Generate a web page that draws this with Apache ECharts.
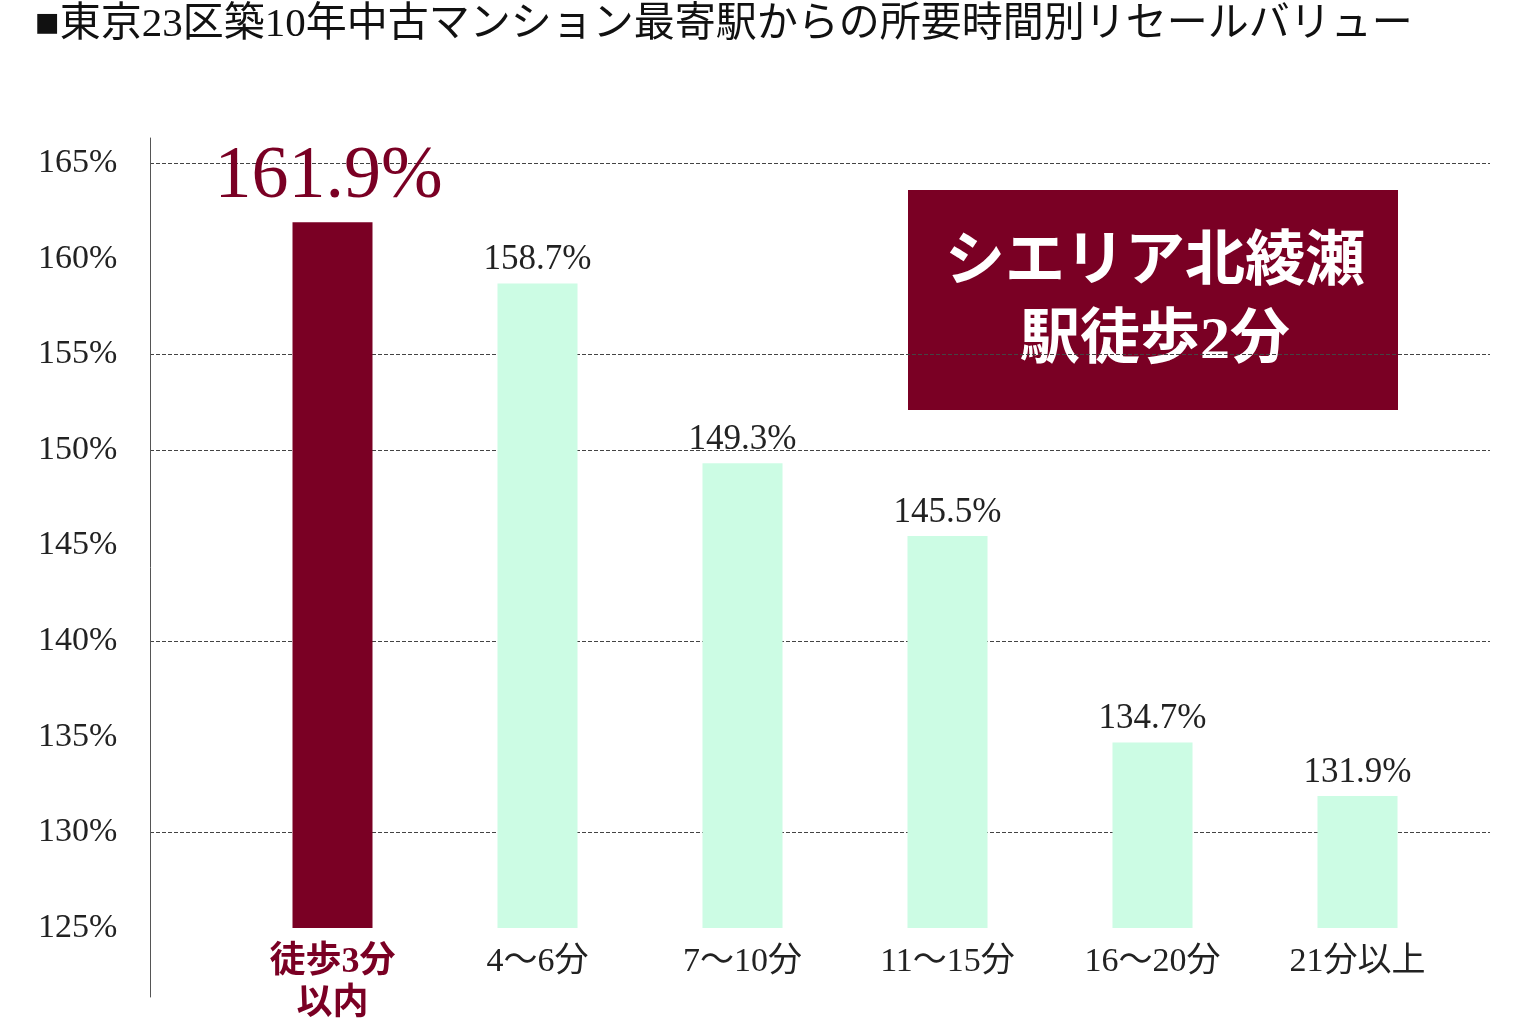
<!DOCTYPE html>
<html><head><meta charset="utf-8">
<script src="https://cdn.jsdelivr.net/npm/echarts@6/dist/echarts.min.js"></script>
<style>html,body{margin:0;background:#fff}#c{width:1536px;height:1027px}</style>
</head><body><div id="c"></div>
<script>
const titleText = '■東京23区築10年中古マンション最寄駅からの所要時間別リセールバリュー';
const categories = ['徒歩3分\n以内', '4～6分', '7～10分', '11～15分', '16～20分', '21分以上'];
const values = [161.9, 158.7, 149.3, 145.5, 134.7, 131.9];
const yMin = 125, yMax = 165, yStep = 5;
const boxText = 'シエリア北綾瀬\n駅徒歩2分';
const FONT = '"Liberation Serif","DejaVu Serif","Noto Sans CJK JP"';
const RED = '#7a0024', MINT = '#ccfce4';
const chart = echarts.init(document.getElementById('c'));
const gridColors = ['transparent','#444','transparent','#444','transparent','#444','#444','transparent','#444'];
chart.setOption({
  animation:false,
  title:{text:titleText,left:30,top:0,textStyle:{fontFamily:FONT,fontSize:41,fontWeight:'normal',color:'#111'}},
  grid:[
    {left:230,right:76,top:163,bottom:99},
    {left:150,right:46,top:163,bottom:99},
    {left:150,right:46,top:138,bottom:30}
  ],
  xAxis:[
    {type:'category',gridIndex:0,data:categories,axisLine:{show:false},axisTick:{show:false},
     axisLabel:{interval:0,margin:14,fontFamily:FONT,fontSize:34,lineHeight:40,
       formatter:(v,i)=>i===0?'{r|'+v.replace('\n','}\n{r|')+'}':v,
       color:'#222',rich:{r:{color:RED,fontWeight:'bold',fontFamily:FONT,fontSize:36,lineHeight:42}}}},
    {type:'value',gridIndex:1,show:false},
    {type:'value',gridIndex:2,show:false}
  ],
  yAxis:[
    {type:'value',gridIndex:0,min:yMin,max:yMax,interval:yStep,show:false},
    {type:'value',gridIndex:1,min:yMin,max:yMax,interval:yStep,
     axisLine:{show:false},axisTick:{show:false},
     axisLabel:{formatter:'{value}%',align:'left',margin:112,fontFamily:FONT,fontSize:34,color:'#222',padding:[0,0,26,0]},
     splitLine:{show:true,lineStyle:{type:'dashed',color:gridColors,width:1}}},
    {type:'value',gridIndex:2,axisLine:{show:true,lineStyle:{color:'#555',width:1}},axisTick:{show:false},axisLabel:{show:false},splitLine:{show:false}}
  ],
  series:[{
    type:'bar',xAxisIndex:0,yAxisIndex:0,barWidth:80,
    data:values.map((v,i)=>({value:v,
      itemStyle:{color:i===0?RED:MINT},
      label:i===0?{fontSize:74,color:RED,offset:[-4,-2]}:{}})),
    label:{show:true,position:'top',distance:6,formatter:p=>p.value.toFixed(1)+'%',
      fontFamily:FONT,fontSize:35,color:'#222'}
  }],
  graphic:[
    {type:'rect',left:908,top:190,shape:{width:490,height:220},style:{fill:RED}},
    {type:'text',x:1155,y:225,style:{text:boxText,textAlign:'center',
      font:'bold 60px '+FONT,fill:'#fff',lineHeight:78}}
  ]
});
</script></body></html>
